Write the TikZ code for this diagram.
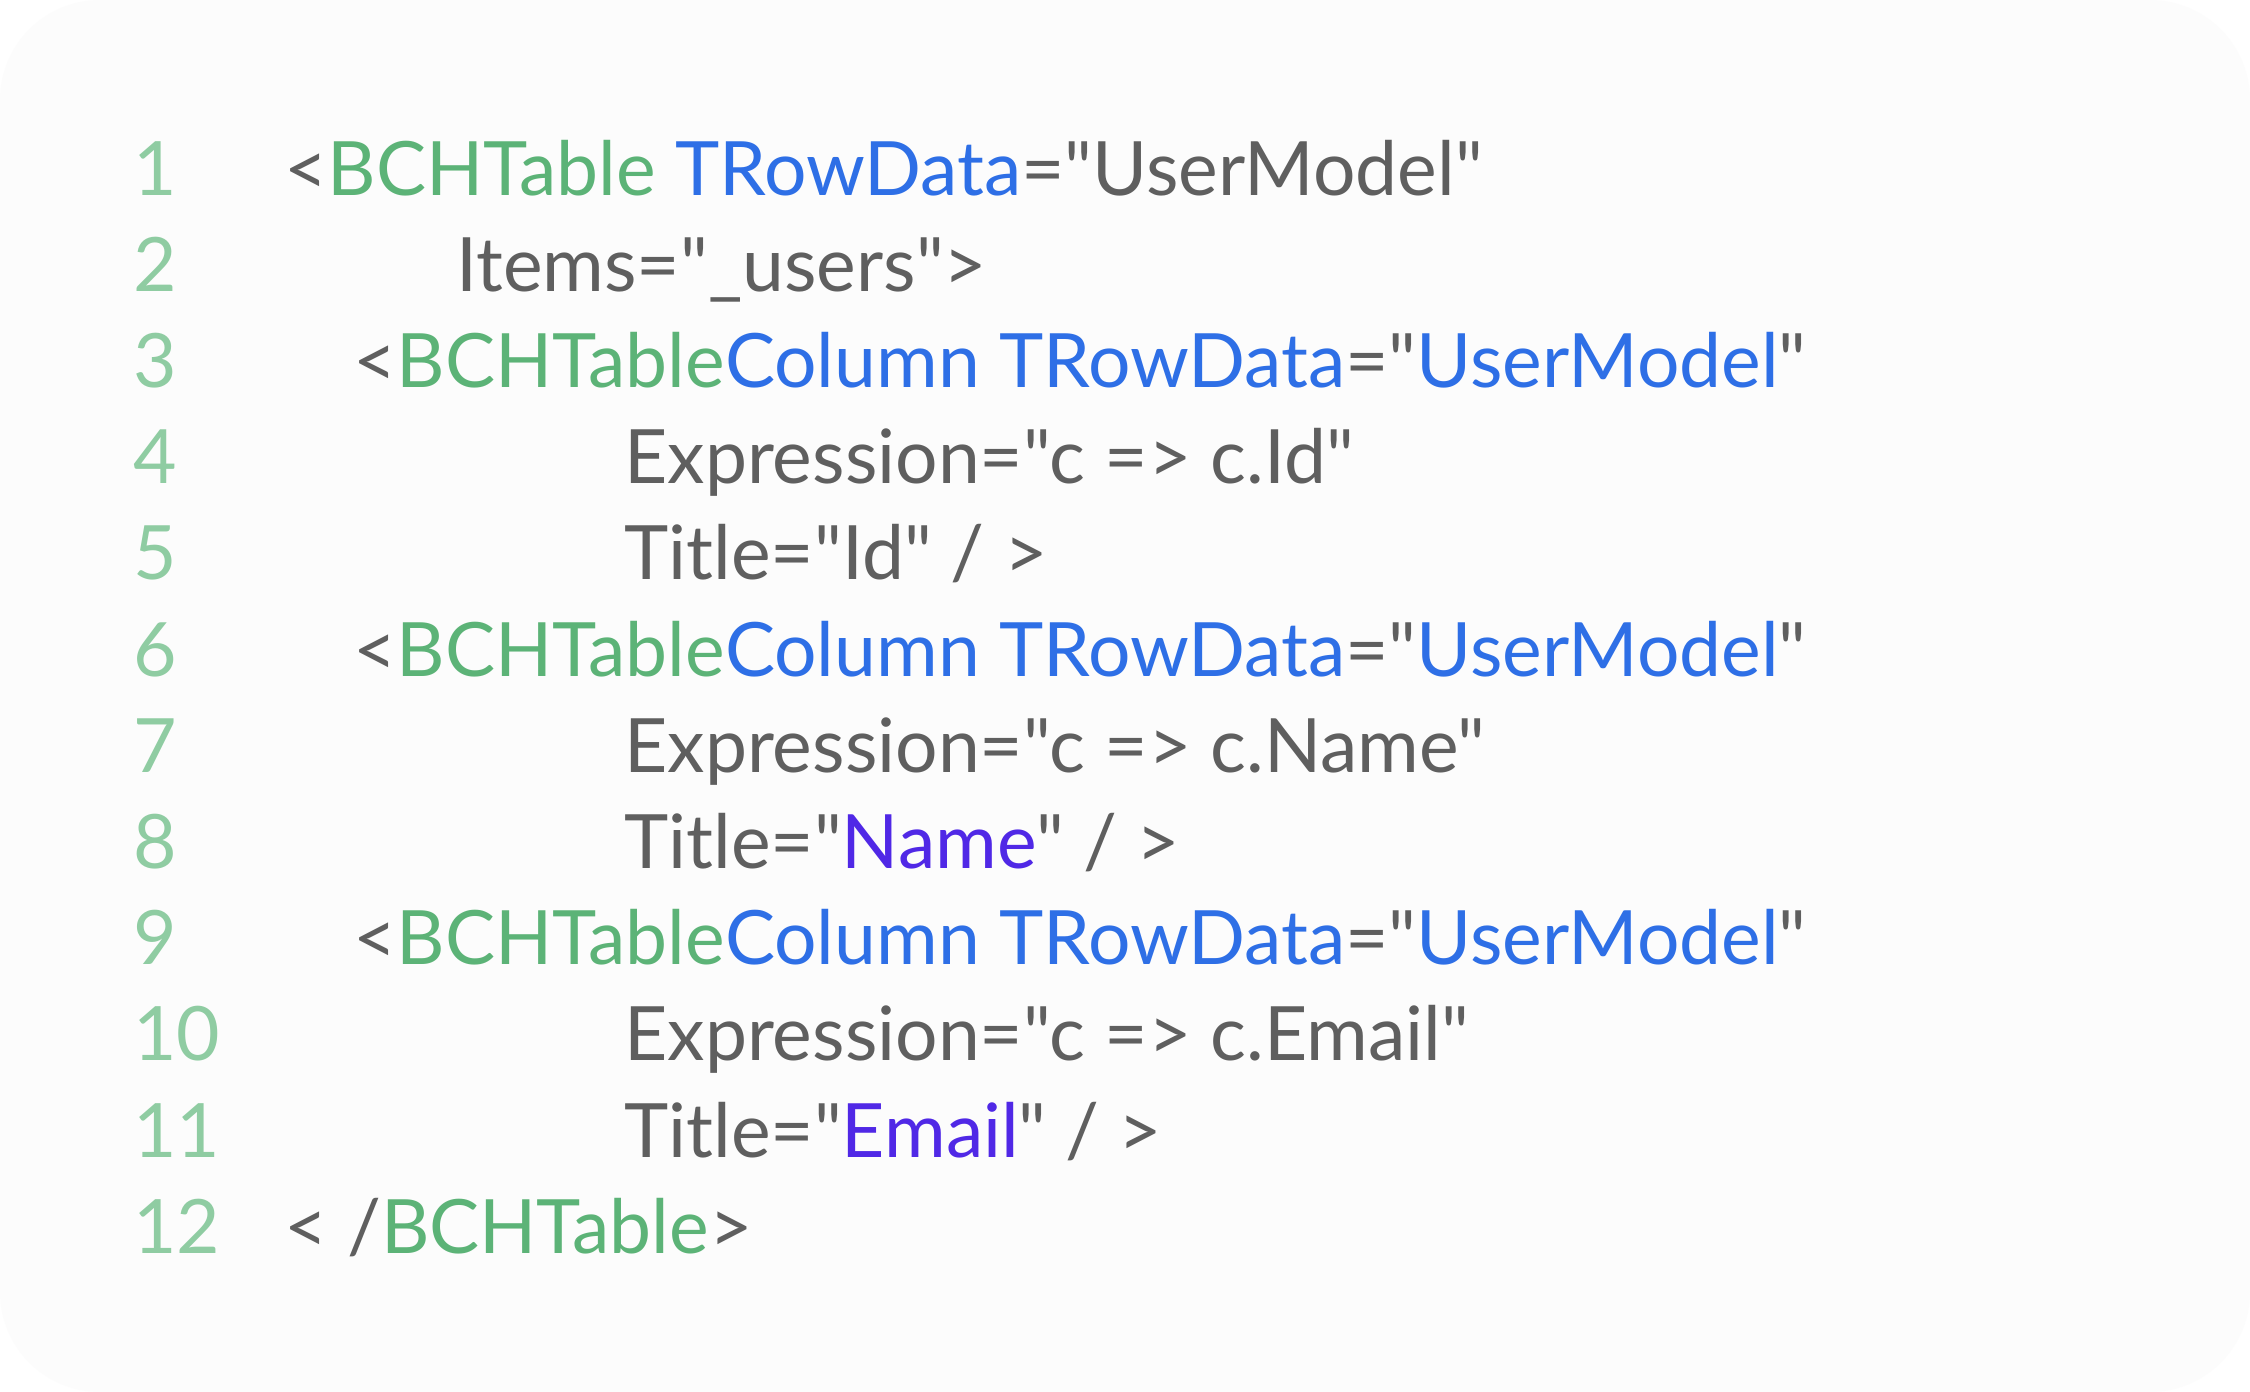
\documentclass[tikz,border=0pt]{standalone}
\usepackage{fontspec}
\newfontfamily\codefont{Lato}
\definecolor{bgc}{HTML}{FCFCFC}
\definecolor{gr}{HTML}{5CB377}
\definecolor{lnc}{HTML}{8FCCA2}
\definecolor{bl}{HTML}{2E6FE6}
\definecolor{gy}{HTML}{5F5F5F}
\definecolor{pu}{HTML}{5028E6}
\newcommand{\cg}[1]{\textcolor{gr}{#1}}
\newcommand{\cb}[1]{\textcolor{bl}{#1}}
\newcommand{\cp}[1]{\textcolor{pu}{#1}}
\begin{document}
\begin{tikzpicture}[x=0.5pt,y=-0.5pt,
  code/.style={anchor=base west,inner sep=0pt,text=gy,font=\codefont\fontsize{37.5pt}{40pt}\selectfont},
  lnum/.style={anchor=base west,inner sep=0pt,text=lnc,font=\codefont\fontsize{37.5pt}{40pt}\selectfont}]
\useasboundingbox (0,0) rectangle (2250,1392);
\fill[white] (0,0) rectangle (2250,1392);
\fill[bgc,rounded corners=50pt] (0,0) rectangle (2250,1392);
\foreach \i in {1,...,12}{
  \node[lnum] (n\i) at (133,{195+96.2*(\i-1)}) {\i};
}
\node[code] (l1) at (284,195) {<\cg{BCHTable} \cb{TRowData}="UserModel"};
\node[code] (l2) at (456,291.2) {Items="\_users">};
\node[code] (l3) at (353,387.4) {<\cg{BCHTable}\cb{Column} \cb{TRowData}="\cb{UserModel}"};
\node[code] (l4) at (624,483.6) {Expression="c => c.Id"};
\node[code] (l5) at (624,579.8) {Title="Id" / >};
\node[code] (l6) at (353,676) {<\cg{BCHTable}\cb{Column} \cb{TRowData}="\cb{UserModel}"};
\node[code] (l7) at (624,772.2) {Expression="c => c.Name"};
\node[code] (l8) at (624,868.4) {Title="\cp{Name}" / >};
\node[code] (l9) at (353,964.6) {<\cg{BCHTable}\cb{Column} \cb{TRowData}="\cb{UserModel}"};
\node[code] (l10) at (624,1060.8) {Expression="c => c.Email"};
\node[code] (l11) at (624,1157) {Title="\cp{Email}" / >};
\node[code] (l12) at (284,1253.2) {< /\cg{BCHTable}>};
\end{tikzpicture}
\end{document}
